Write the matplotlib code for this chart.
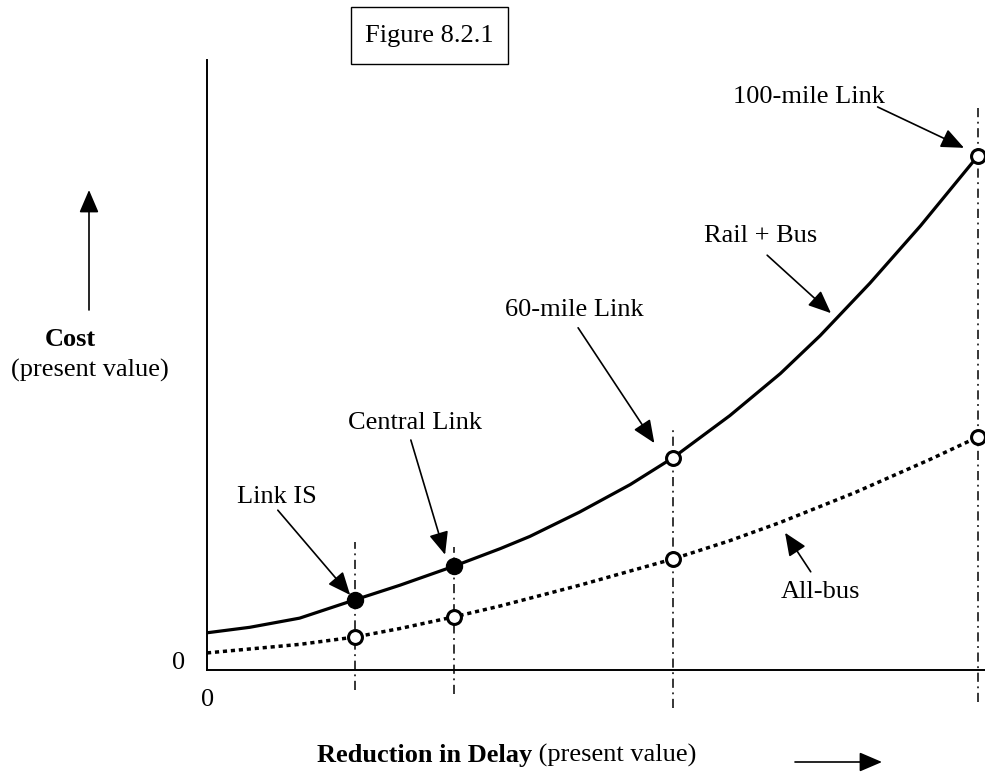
import matplotlib.pyplot as plt
from matplotlib.patches import Rectangle

plt.rcParams['font.family'] = ['Liberation Serif', 'DejaVu Serif']

W, H = 985, 775

# Link options (reduction in delay) and their costs on each curve
links = ['Link IS', 'Central Link', '60-mile Link', '100-mile Link']
link_x = [1.90, 3.17, 5.99, 9.91]
rail_at_link = [1.15, 1.70, 3.48, 8.43]
bus_at_link = [0.54, 0.87, 1.82, 3.82]
rail_filled = [True, True, False, False]

# Rail + Bus cost curve
rail_x = [0.0, 0.55, 1.19, 1.90, 2.48, 3.17, 3.77, 4.15, 4.79, 5.44, 5.99,
          6.72, 7.37, 7.88, 8.52, 9.17, 9.91]
rail_y = [0.61, 0.70, 0.85, 1.15, 1.39, 1.70, 1.99, 2.19, 2.59, 3.04, 3.48,
          4.17, 4.86, 5.48, 6.34, 7.28, 8.43]

# All-bus cost curve
bus_x = [0.0, 1.19, 1.90, 2.48, 3.17, 3.77, 4.79, 5.99, 6.72, 7.37, 8.33, 9.29, 9.91]
bus_y = [0.28, 0.42, 0.54, 0.68, 0.87, 1.05, 1.39, 1.82, 2.12, 2.42, 2.91, 3.45, 3.82]

# top / bottom of the vertical guide at each link
guide_top = [2.10, 2.02, 3.95, 9.26]
guide_bottom = [-0.33, -0.39, -0.62, -0.52]

fig = plt.figure(figsize=(W / 100, H / 100), dpi=100)
ax = fig.add_axes([207 / W, (H - 670) / H, (W - 207) / W, 610 / H])
ax.set_xlim(0, 10)
ax.set_ylim(0, 10)
for side in ['top', 'right']:
    ax.spines[side].set_visible(False)
for side in ['left', 'bottom']:
    ax.spines[side].set_linewidth(1.4)
ax.set_xticks([])
ax.set_yticks([])

# vertical guides
for x, y0, y1 in zip(link_x, guide_bottom, guide_top):
    ax.plot([x, x], [y0, y1], color='black', lw=1.1,
            linestyle=(0, (6, 3, 1.2, 3)), clip_on=False)

ax.plot(rail_x, rail_y, color='black', lw=2.3, solid_capstyle='butt',
        solid_joinstyle='round', clip_on=False)
ax.plot(bus_x, bus_y, color='black', lw=2.5, linestyle=(0, (1.2, 1.1)), clip_on=False)

for x, yr, yb, filled in zip(link_x, rail_at_link, bus_at_link, rail_filled):
    ax.plot(x, yr, 'o', ms=11.5 if filled else 10, mfc='black' if filled else 'white',
            mec='black', mew=1 if filled else 2.2, clip_on=False, zorder=5)
    ax.plot(x, yb, 'o', ms=10, mfc='white', mec='black', mew=2.2, clip_on=False, zorder=5)

arrow = dict(arrowstyle='-|>,head_length=0.7,head_width=0.3', mutation_scale=20,
             color='black', lw=1.2, shrinkA=0, shrinkB=0)
fs = 19

# label text position, arrow tail, arrow tip (data units)
labels = [
    ('Link IS', (0.90, 2.84), (0.91, 2.62), (1.84, 1.23)),
    ('Central Link', (2.67, 4.05), (2.62, 3.77), (3.06, 1.89)),
    ('60-mile Link', (4.72, 5.90), (4.77, 5.61), (5.75, 3.72)),
    ('Rail + Bus', (7.12, 7.11), (7.20, 6.80), (8.02, 5.85)),
    ('100-mile Link', (7.74, 9.39), (8.62, 9.23), (9.73, 8.56)),
    ('All-bus', (7.88, 1.28), (7.76, 1.61), (7.43, 2.25)),
]
for text, pos, tail, tip in labels:
    ax.text(pos[0], pos[1], text, fontsize=fs, ha='center', va='center')
    ax.annotate('', xy=tip, xytext=tail, arrowprops=arrow, annotation_clip=False)


def fpx(x, y):
    return (x / W, 1 - y / H)


# axis titles and origin labels
fig.text(*fpx(70, 340), 'Cost', fontsize=fs, weight='bold', ha='center', va='center')
fig.text(*fpx(90, 370), '(present value)', fontsize=fs, ha='center', va='center')
fig.text(*fpx(179, 663), '0', fontsize=fs, ha='center', va='center')
fig.text(*fpx(208, 700), '0', fontsize=fs, ha='center', va='center')

ax.annotate('', xy=fpx(89, 190), xytext=fpx(89, 310), xycoords='figure fraction',
            textcoords='figure fraction', arrowprops=arrow)
ax.annotate('', xy=fpx(882, 762), xytext=fpx(795, 762), xycoords='figure fraction',
            textcoords='figure fraction', arrowprops=arrow)

xlab = fig.text(*fpx(317, 762), 'Reduction in Delay', fontsize=fs, weight='bold',
                ha='left', va='baseline')
fig.canvas.draw()
bb = xlab.get_window_extent()
fig.text(bb.x1 / W, xlab.get_position()[1], ' (present value)', fontsize=fs,
         ha='left', va='baseline')

# figure number box
x0, y0 = fpx(351, 64)
x1, y1 = fpx(508, 7)
fig.add_artist(Rectangle((x0, y0), x1 - x0, y1 - y0, transform=fig.transFigure,
                         fill=False, lw=1.0, ec='black'))
fig.text(*fpx(429, 36), 'Figure 8.2.1', fontsize=fs, ha='center', va='center')

fig.savefig('out.png', dpi=100)
